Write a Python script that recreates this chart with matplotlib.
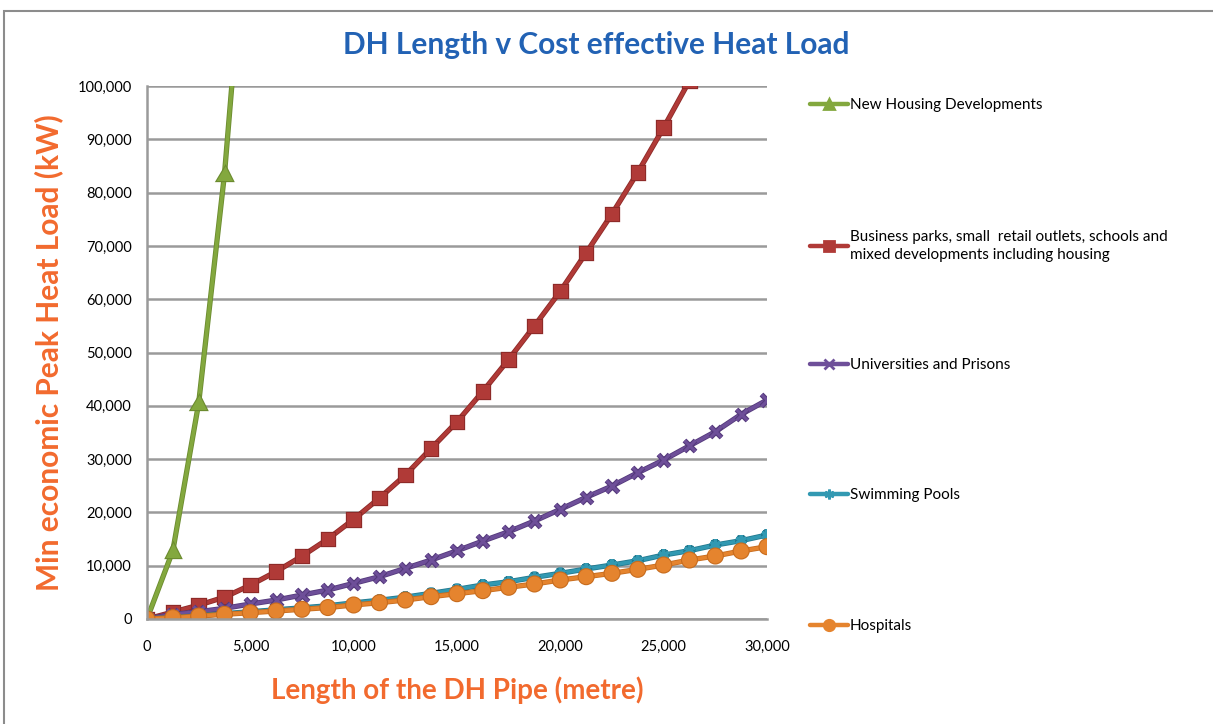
import matplotlib.pyplot as plt
import matplotlib.patheffects as pe
from matplotlib.lines import Line2D
from matplotlib.patches import Rectangle
from matplotlib.ticker import FuncFormatter

plt.rcParams['font.family'] = ['Lato', 'DejaVu Sans']

# pipe length (m), one reading every 1,250 m
length = [0, 1250, 2500, 3750, 5000, 6250, 7500, 8750, 10000, 11250, 12500, 13750,
          15000, 16250, 17500, 18750, 20000, 21250, 22500, 23750, 25000, 26250,
          27500, 28750, 30000]

housing = [0, 12800, 40500, 83500, 142000]
business = [0, 1300, 2600, 4100, 6350, 8900, 11800, 15000, 18700, 22700, 27000,
            32000, 37000, 42700, 48700, 55000, 61500, 68700, 76000, 83800, 92200,
            101000]
universities = [0, 870, 1370, 2000, 2810, 3560, 4500, 5440, 6690, 7940, 9500, 11070,
                12800, 14630, 16380, 18390, 20580, 22830, 24950, 27450, 29830, 32500,
                35140, 38400, 41080]
pools = [0, 290, 640, 1010, 1360, 1730, 2100, 2480, 3030, 3520, 4100, 4820, 5570,
         6380, 7000, 7820, 8570, 9380, 10130, 10940, 12000, 12820, 13880, 14700, 15760]
hospitals = [0, 250, 560, 880, 1180, 1500, 1820, 2150, 2630, 3060, 3560, 4190, 4750,
             5320, 5950, 6570, 7320, 7940, 8570, 9320, 10130, 11070, 11820, 12760, 13570]

series = [
    ('New Housing Developments', housing, '#83A83E', '#6B8B2F', '^', 7.5),
    ('Business parks, small  retail outlets, schools and\nmixed developments including housing',
     business, '#B03A37', '#8E2A28', 's', 7.5),
    ('Universities and Prisons', universities, '#6E4F99', '#553a7c', 'x', 8),
    ('Swimming Pools', pools, '#3299B2', '#22798f', (6, 2, 0), 8),
    ('Hospitals', hospitals, '#E5842E', '#c76c1e', 'o', 8.5),
]

fig = plt.figure(figsize=(12.13, 7.24), dpi=100)
ax = fig.add_axes([147 / 1213, 1 - 619 / 724, 620 / 1213, 533 / 724])

handles = []
for name, vals, color, edge, marker, ms in series:
    ax.plot(length[:len(vals)], vals, color=color, lw=2.6, marker=marker, ms=ms,
            mec=color, mfc=color, mew=2.2, solid_capstyle='round',
            path_effects=[pe.Stroke(linewidth=3.8, foreground=edge), pe.Normal()])
    handles.append(Line2D([], [], color=color, lw=3.2, marker=marker, ms=ms - 1,
                          mec=color, mfc=color, mew=2, solid_capstyle='round'))

ax.set_xlim(0, 30000)
ax.set_ylim(0, 100000)
ax.set_xticks(range(0, 30001, 5000))
ax.set_yticks(range(0, 100001, 10000))
fmt = FuncFormatter(lambda v, p: f'{int(v):,}')
ax.xaxis.set_major_formatter(fmt)
ax.yaxis.set_major_formatter(fmt)
ax.grid(axis='y', color='#9a9a9a', lw=1.8)
ax.set_axisbelow(True)
for s in ['top', 'right']:
    ax.spines[s].set_visible(False)
for s in ['left', 'bottom']:
    ax.spines[s].set_color('#9a9a9a')
    ax.spines[s].set_linewidth(1.8)
ax.tick_params(axis='both', colors='#9a9a9a', labelcolor='black', labelsize=10.5,
               length=0, width=1.5)
ax.tick_params(axis='y', pad=11)
ax.tick_params(axis='x', pad=15)

ax.set_xlabel('Length of the DH Pipe (metre)', fontsize=20, fontweight='bold',
              color='#F26A2E', labelpad=16)
ax.set_ylabel('Min economic Peak Heat Load (kW)', fontsize=21.5, fontweight='bold',
              color='#F26A2E', labelpad=10)
fig.text(596 / 1213, 1 - 45 / 724, 'DH Length v Cost effective Heat Load',
         fontsize=21.5, fontweight='bold', color='#2262B4', ha='center', va='center')

legend_y = [105, 246, 365, 495, 626]
for h, (name, *_), y in zip(handles, series, legend_y):
    leg = fig.legend(handles=[h], labels=[name], loc='center left',
                     bbox_to_anchor=(810 / 1213, 1 - y / 724), frameon=False, fontsize=11,
                     handlelength=2.5, handletextpad=0.12, borderaxespad=0, borderpad=0)
    for t in leg.get_texts():
        t.set_linespacing(1.45)

fig.patches.append(Rectangle((4 / 1213, -0.1), 1.2, 1.1 - 11 / 724, transform=fig.transFigure,
                             fill=False, edgecolor='#8c8c8c', lw=1.5))

fig.savefig('out.png', dpi=100)
